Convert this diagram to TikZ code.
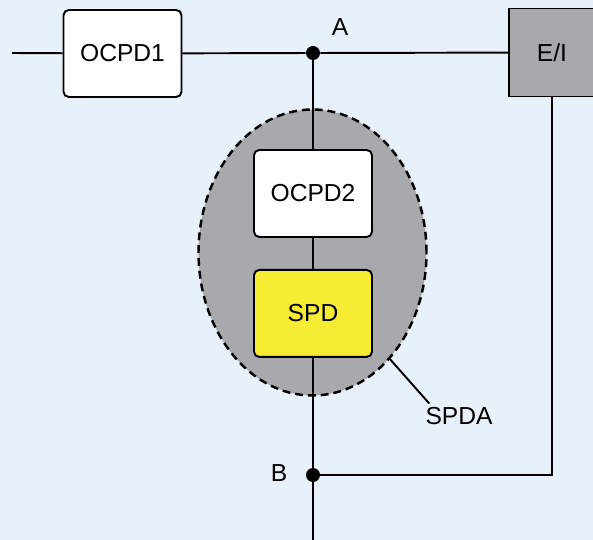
\documentclass[tikz,border=0pt]{standalone}
\usepackage{fontspec}
\setmainfont{Liberation Sans}
\usetikzlibrary{shapes.geometric,positioning}
\definecolor{bgblue}{HTML}{E8F0FA}
\definecolor{boxgray}{HTML}{A8A9AC}
\definecolor{spdyellow}{HTML}{F6EC34}
\tikzstyle{block} = [align=center,draw=black,line width=1.1pt,rectangle,rounded corners=3pt,fill=white,minimum width=2.36cm,minimum height=1.74cm,text centered]
\tikzstyle{unit} = [align=center,draw=black,line width=0.8pt,rectangle,fill=boxgray,minimum width=1.72cm,minimum height=1.76cm]
\tikzstyle{zone} = [draw=black,ellipse,dash pattern=on 4.5pt off 2.8pt,line width=1.4pt,fill=boxgray,minimum width=4.56cm,minimum height=5.72cm]
\tikzstyle{dot} = [circle,fill=black,inner sep=0pt,minimum size=0.28cm]
\tikzstyle{data} = [align=center,text centered]
\tikzstyle{wire} = [line width=1.1pt]

\begin{document}
\begin{tikzpicture}[font=\fontsize{14}{16}\selectfont]
				\fill[bgblue] (0,0) rectangle (11.86,-10.8);
				\useasboundingbox (0,0) rectangle (11.86,-10.8);
				\node (spda) [zone] at (6.25,-5.05) {};
				\coordinate (in) at (0.24,-1.06);
				\node (ocpd1) [block] at (2.45,-1.07) {OCPD1};
				\node (a) [dot] at (6.26,-1.06) {};
				\node (ei) [unit] at (11.04,-1.05) {E/I};
				\node (ocpd2) [block] at (6.26,-3.87) {OCPD2};
				\node (spd) [block,fill=spdyellow,below=0.62cm of ocpd2] {SPD};
				\node (b) [dot] at (6.26,-9.5) {};
				\coordinate (out) at (6.26,-10.8);
				\node (lbla) [data] at (6.8,-0.54) {A};
				\node (lblb) [data] at (5.58,-9.46) {B};
				\node (lblspda) [data] at (9.18,-8.32) {SPDA};
				\draw [wire] (in) -- (ocpd1);
				\draw [wire] (ocpd1) -- (a) -- (ei);
				\draw [wire] (a) -- (ocpd2);
				\draw [wire] (ocpd2) -- (spd);
				\draw [wire] (spd) -- (b) -- (out);
				\draw [wire] (ei) -- (ei |- b) -- (b);
				\draw [wire] (spda.-54) -- ([shift={(0.2,-0.05)}]lblspda.north west);
			\end{tikzpicture}
\end{document}
